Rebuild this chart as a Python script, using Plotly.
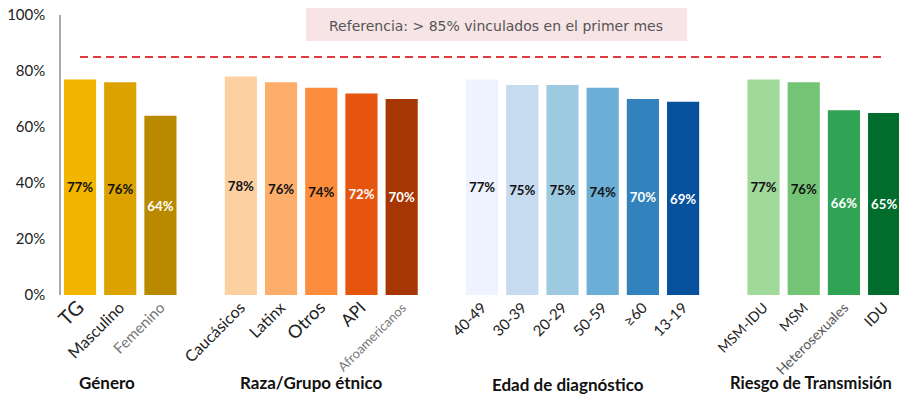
import plotly.graph_objects as go

# ---- data ----
groups = ["Género", "Raza/Grupo étnico", "Edad de diagnóstico", "Riesgo de Transmisión"]
genero_cats = ["TG", "Masculino", "Femenino"]
genero_vals = [77, 76, 64]
raza_cats = ["Caucásicos", "Latinx", "Otros", "API", "Afroamericanos"]
raza_vals = [78, 76, 74, 72, 70]
edad_cats = ["40-49", "30-39", "20-29", "50-59", "≥60", "13-19"]
edad_vals = [77, 75, 75, 74, 70, 69]
riesgo_cats = ["MSM-IDU", "MSM", "Heterosexuales", "IDU"]
riesgo_vals = [77, 76, 66, 65]
referencia = 85
y_ticks = [0, 20, 40, 60, 80, 100]

# ---- styles ----
genero_colors = ["#F3B600", "#DBA200", "#B98A00"]
raza_colors = ["#FDD0A2", "#FDAE6B", "#FD8D3C", "#E6550D", "#A63603"]
edad_colors = ["#EFF3FF", "#C6DBEF", "#9ECAE1", "#6BAED6", "#3182BD", "#08519C"]
riesgo_colors = ["#A1D99B", "#74C476", "#31A354", "#006D2C"]

genero_txt = ["#111", "#111", "#fff"]
raza_txt = ["#111", "#111", "#111", "#fff", "#fff"]
edad_txt = ["#111", "#111", "#111", "#111", "#fff", "#fff"]
riesgo_txt = ["#111", "#111", "#fff", "#fff"]

# per-label tick styling (size, color)
tick_style = {
    "TG": (20, "#222"), "Masculino": (16, "#222"), "Femenino": (15, "#777"),
    "Caucásicos": (16, "#222"), "Latinx": (16, "#222"), "Otros": (18, "#222"),
    "API": (17, "#222"), "Afroamericanos": (13, "#777"),
    "40-49": (15, "#222"), "30-39": (15, "#222"), "20-29": (15, "#222"),
    "50-59": (15, "#222"), "≥60": (15, "#222"), "13-19": (15, "#222"),
    "MSM-IDU": (14, "#222"), "MSM": (14, "#222"), "Heterosexuales": (14, "#555"),
    "IDU": (15, "#222"),
}

all_groups = [
    (genero_cats, genero_vals, genero_colors, genero_txt),
    (raza_cats, raza_vals, raza_colors, raza_txt),
    (edad_cats, edad_vals, edad_colors, edad_txt),
    (riesgo_cats, riesgo_vals, riesgo_colors, riesgo_txt),
]

fig = go.Figure()
xs, ys, cols, tcols, labels = [], [], [], [], []
pos = 0
for cats, vals, colors, txt in all_groups:
    for c, v, col, tc in zip(cats, vals, colors, txt):
        xs.append(pos)
        ys.append(v / 100)
        cols.append(col)
        tcols.append(tc)
        labels.append(c)
        pos += 1
    pos += 1  # gap between groups

fig.add_trace(go.Bar(
    x=xs, y=ys, width=0.8,
    marker=dict(color=cols, line=dict(width=0)),
    text=[f"{round(v*100)}%" for v in ys],
    textposition="inside", insidetextanchor="middle",
    textangle=0,
    textfont=dict(family="Lato", size=14, color=tcols, weight="bold"),
    hoverinfo="skip", showlegend=False,
    cliponaxis=False,
))

ticktext = [f"<span style='font-size:{tick_style[l][0]}px;color:{tick_style[l][1]}'>{l}</span>" for l in labels]

fig.update_layout(
    width=899, height=404,
    margin=dict(l=61, r=0, t=15, b=109),
    paper_bgcolor="white", plot_bgcolor="white",
    font=dict(family="Lato", color="#222"),
    bargap=0.2,
    xaxis=dict(
        range=[-0.473, 20.37], tickmode="array", tickvals=xs, ticktext=ticktext,
        tickangle=-45, showgrid=False, zeroline=False, showline=False, ticks="",
        tickfont=dict(family="Lato", size=15, color="#222"), automargin=False,
        ticklabeloverflow="allow",
    ),
    yaxis=dict(
        range=[0, 1], tickmode="array", tickvals=[t / 100 for t in y_ticks],
        ticktext=[f"{t}%" for t in y_ticks],
        showgrid=False, zeroline=False, showline=True, linecolor="#aaaaaa", linewidth=1.5,
        ticks="", ticklabelstandoff=11, automargin=False, ticklabeloverflow="allow",
        tickfont=dict(family="Lato", size=15, color="#222"),
    ),
)

# reference dashed line
fig.add_shape(type="line", xref="x", yref="y", x0=0, x1=20, y0=referencia / 100, y1=referencia / 100,
              line=dict(color="#E0393E", width=2, dash="8px,5px"))
# reference box
fig.add_shape(type="rect", xref="x", yref="paper", x0=5.62, x1=15.1, y0=0.907, y1=1.025,
              fillcolor="#F6E4E6", line=dict(width=0), layer="below")
fig.add_annotation(xref="x", yref="paper", x=10.35, y=0.962, yanchor="middle", showarrow=False,
                   text=f"Referencia: > {referencia}% vinculados en el primer mes",
                   font=dict(family="DejaVu Sans", size=14, color="#555"))

# group titles
group_x = [0.67, 5.75, 12.14, 16.12]
group_y = [-0.357, -0.357, -0.365, -0.357]
group_anchor = ["center", "center", "center", "left"]
group_size = [17, 17, 17, 16.5]
for g, gx, gy, ga, gs in zip(groups, group_x, group_y, group_anchor, group_size):
    fig.add_annotation(xref="x", yref="paper", x=gx, y=gy, xanchor=ga, showarrow=False,
                       text=f"<b>{g}</b>", font=dict(family="Lato", size=gs, color="#111"))

# remove the default 8px page margin so the figure fills the window exactly
fig.write_html("out.html", config={"displayModeBar": False},
               post_script="document.body.style.margin='0';")
